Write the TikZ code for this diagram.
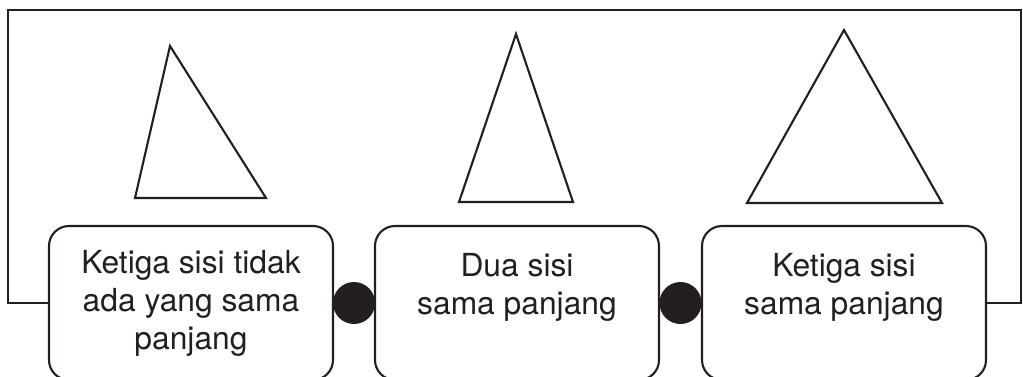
\documentclass[tikz,border=0pt]{standalone}
\usepackage{fontspec}
\setmainfont{TeX Gyre Heros}
\usetikzlibrary{calc,positioning}
\definecolor{inkBlack}{HTML}{231F20}

\begin{document}
\begin{tikzpicture}[
  line/.style={draw=inkBlack,line width=1.5pt},
  sidebox/.style={line,rounded corners=0.5cm,fill=white,
                  minimum width=7.1cm,minimum height=3.85cm,
                  align=center,text=inkBlack,
                  font=\fontsize{22.6pt}{27pt}\selectfont},
  joint/.style={circle,fill=inkBlack,inner sep=0pt,minimum size=1.05cm}]

\useasboundingbox (0,0) rectangle (25.575,9.4);
\clip (0,0) rectangle (25.575,9.4);

%% Triangles (top)
\draw[line] (4.25,8.25) -- (3.375,4.45) -- (6.65,4.45) -- cycle;
\draw[line] (12.9,8.55) -- (11.475,4.35) -- (14.325,4.35) -- cycle;
\draw[line] (21.1,8.65) -- (18.675,4.325) -- (23.55,4.325) -- cycle;

%% Boxes (bottom)
\node[sidebox] (boxA) at (4.775,1.825)
  {Ketiga sisi tidak\\ada yang sama\\panjang};
\node[sidebox] (boxB) at (12.925,1.825)
  {Dua sisi\\sama panjang\\\mbox{}};
\node[sidebox] (boxC) at (21.1,1.825)
  {Ketiga sisi\\sama panjang\\\mbox{}};

\node[joint] (dotA) at (8.85,1.825) {};
\node[joint] (dotB) at (17.0125,1.825) {};

%% Frame round the picture
\coordinate (cornerL) at (0.2,9.15);
\coordinate (cornerR) at (25.525,9.15);
\draw[line] (boxA.west) -| (cornerL) -- (cornerR) |- (boxC.east);
\end{tikzpicture}
\end{document}
